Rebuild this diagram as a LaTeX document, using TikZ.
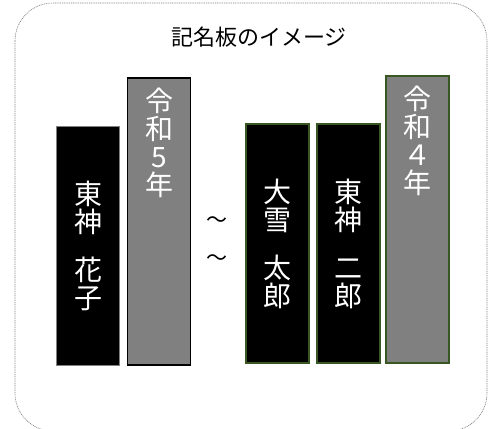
\documentclass[tikz,border=0pt]{standalone}
\usepackage{fontspec}
\newfontfamily\jp{Noto Sans CJK JP}
\usetikzlibrary{positioning}
\definecolor{plategreen}{RGB}{56,87,35}
\tikzset{
  plate/.style={draw, line width=1.5pt, inner sep=0pt, outer sep=0pt, minimum width=63pt, text=white, align=center, font=\jp\fontsize{28}{28}\selectfont},
  nameplate/.style={plate, fill=black, minimum height=239pt},
  yearplate/.style={plate, fill=black!50, minimum height=287pt},
  platetext/.style={text=white, align=center, inner sep=0pt, font=\jp\fontsize{28}{28}\selectfont}
}

\begin{document}
\begin{tikzpicture}[x=1pt,y=-1pt]
  \useasboundingbox (0,0) rectangle (489,428);
  \draw[gray, line width=0.6pt, dash pattern=on 1pt off 0.8pt, rounded corners=38pt] (15,3) rectangle (487,431);
  \node[font=\jp\fontsize{22}{22}\selectfont] (title) at (259,37) {記名板のイメージ};

  \node[nameplate, draw=gray, line width=0.8pt] (lname) at (88,245.5) {東\\神\\[20pt]花\\子};
  \node[yearplate, draw=black] (lyear) at (159,221.5) {};
  \node[platetext, below=10pt of lyear.north] (lyeartext) {令\\和\\5\\年};

  \node[font=\jp\fontsize{21}{38}\selectfont, align=center] (wave) at (217,241) {〜\\〜};

  \node[nameplate, draw=plategreen] (rname1) at (277.5,243.5) {大\\雪\\[20pt]太\\郎};
  \node[nameplate, draw=plategreen] (rname2) at (348.5,243.5) {東\\神\\[20pt]二\\郎};
  \node[yearplate, draw=plategreen] (ryear) at (417.5,219.5) {};
  \node[platetext, below=10pt of ryear.north] (ryeartext) {令\\和\\４\\年};
\end{tikzpicture}
\end{document}
